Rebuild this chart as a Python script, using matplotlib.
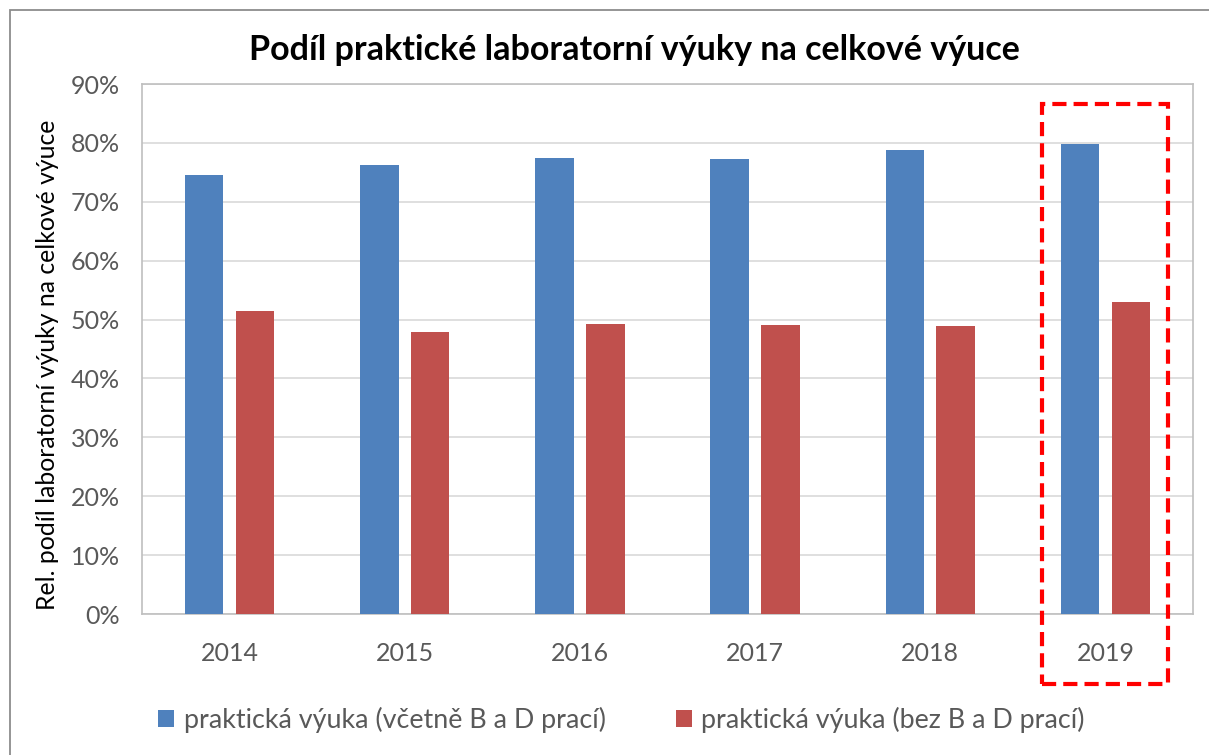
import matplotlib
matplotlib.use("Agg")
import matplotlib.pyplot as plt
from matplotlib.patches import Rectangle
import numpy as np

plt.rcParams['font.family'] = ['Lato', 'DejaVu Sans']

years = ["2014", "2015", "2016", "2017", "2018", "2019"]
incl_bd = [74.5, 76.2, 77.4, 77.3, 78.8, 79.8]
excl_bd = [51.4, 47.9, 49.2, 49.1, 48.9, 53.0]
series_names = ["praktická výuka (včetně B a D prací)", "praktická výuka (bez B a D prací)"]
title = "Podíl praktické laboratorní výuky na celkové výuce"
ylabel = "Rel. podíl laboratorní výuky na celkové výuce"
yticks = [0, 10, 20, 30, 40, 50, 60, 70, 80, 90]

W, H = 1209, 755
fig = plt.figure(figsize=(W / 100, H / 100), dpi=100)
ax = fig.add_axes([142 / W, 1 - 614 / H, (1193 - 142) / W, (614 - 84) / H])

# outer chart frame
fig.patches.append(Rectangle((10 / W, -0.1), 1.2, 1 - 10 / H + 0.1, transform=fig.transFigure,
                             fill=False, edgecolor="#8c8c8c", linewidth=1.3))

x = np.arange(len(years))
bw = 0.22
gap = 0.07
blue = "#4f81bd"
red = "#c0504d"
ax.bar(x - (bw + gap) / 2, incl_bd, bw, color=blue, label=series_names[0], zorder=3)
ax.bar(x + (bw + gap) / 2, excl_bd, bw, color=red, label=series_names[1], zorder=3)

ax.set_xlim(-0.5, len(years) - 0.5)
ax.set_ylim(0, 90)
ax.set_yticks(yticks)
ax.set_yticklabels([f"{t}%" for t in yticks])
ax.set_xticks(x)
ax.set_xticklabels(years)
ax.tick_params(axis="both", length=0, colors="#595959", labelsize=18)
ax.tick_params(axis="y", pad=16)
ax.tick_params(axis="x", pad=20)
ax.grid(axis="y", color="#d9d9d9", linewidth=1.2, zorder=0)
for s in ax.spines.values():
    s.set_color("#bfbfbf")
    s.set_linewidth(1.2)

ax.set_ylabel(ylabel, fontsize=17.8, color="#000000")
ax.yaxis.set_label_coords(-0.079, 0.47)
fig.text(0.525, 1 - 50 / H, title, ha="center", va="center", fontsize=24.5, fontweight="bold")

# highlight box around 2019
last = len(years) - 1
rect = Rectangle((last - 0.363, -11.9), 0.72, 98.5, fill=False, edgecolor="#ff0000",
                 linewidth=3.0, linestyle=(0, (3.4, 1.7)), clip_on=False, zorder=5)
ax.add_patch(rect)

leg = fig.legend(loc="center", bbox_to_anchor=(0.514, 1 - 720 / H), ncol=2, frameon=False,
                 fontsize=19.4, handlelength=0.6, handleheight=0.6, columnspacing=2.6, handletextpad=0.35)
for t in leg.get_texts():
    t.set_color("#595959")

fig.savefig("out.png", dpi=100)
